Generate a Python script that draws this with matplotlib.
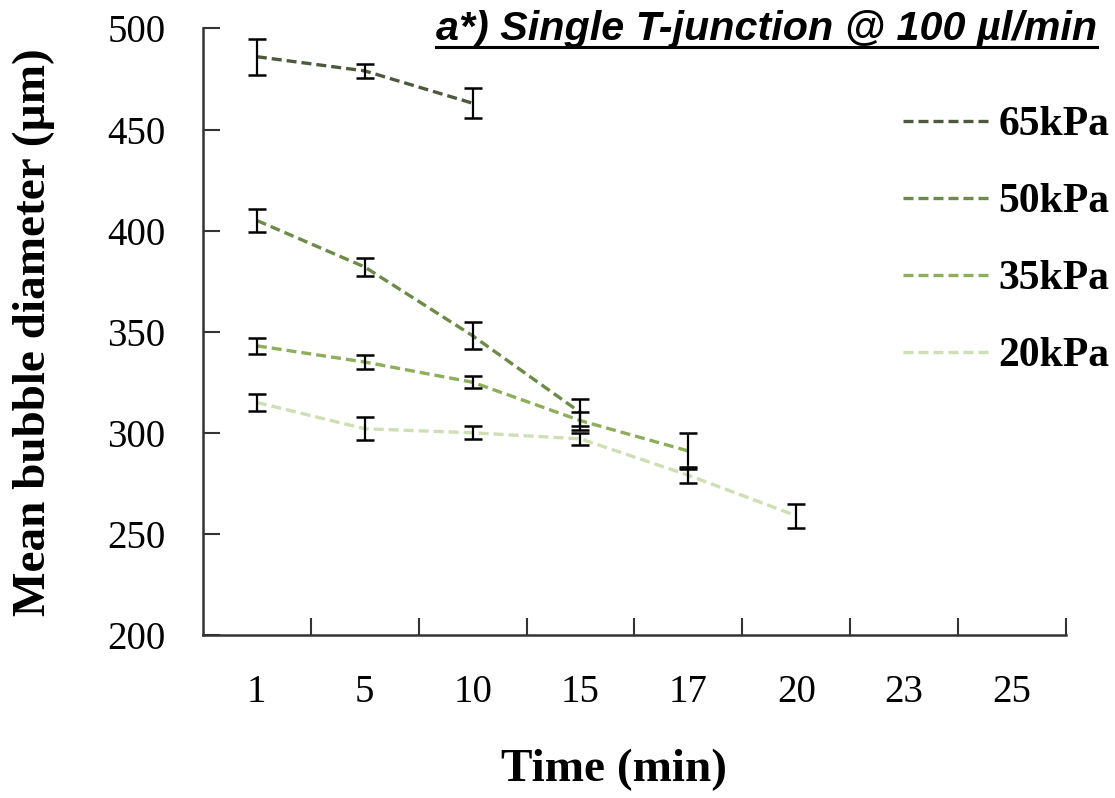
import matplotlib
matplotlib.use("Agg")
import matplotlib.pyplot as plt
from matplotlib.lines import Line2D
import numpy as np

times = ["1", "5", "10", "15", "17", "20", "23", "25"]

# mean diameter (um) and error per pressure, one value per time point
d65 = [486, 479, 463]
e65 = [9, 3.5, 7.5]
d50 = [405, 382, 348, 310]
e50 = [5.5, 4.5, 6.8, 6.5]
d35 = [343, 335, 325, 306, 291]
e35 = [4, 3.3, 3, 4.5, 9]
d20 = [315, 302, 300, 297, 279, 259]
e20 = [4, 5.8, 3.3, 3, 4, 6]

series = [
    ("65kPa", d65, e65, "#4b5a3c"),
    ("50kPa", d50, e50, "#6c8b47"),
    ("35kPa", d35, e35, "#8eae5c"),
    ("20kPa", d20, e20, "#cddfb3"),
]

serif = ["Liberation Serif", "DejaVu Serif"]

fig = plt.figure(figsize=(11.15, 7.98), dpi=100)
ax = fig.add_axes([0.182, 0.2043, 0.774, 0.7601])

for name, d, e, c in series:
    x = np.arange(len(d))
    ax.plot(x, d, color=c, lw=2.4, dashes=(3.0, 1.5), label=name, zorder=2)
    ax.errorbar(x, d, yerr=e, fmt="none", ecolor="black", elinewidth=1.6,
                capsize=6.5, capthick=1.8, zorder=3)

ax.set_xlim(-0.5, len(times) - 0.5)
ax.set_ylim(200, 500)
ax.set_yticks(np.arange(200, 501, 50))

# ticks sit on the category boundaries, labels in the middle
ax.set_xticks(np.arange(0.5, len(times), 1))
ax.set_xticklabels([])
ax.set_xticks(np.arange(len(times)), minor=True)
ax.set_xticklabels(times, minor=True)
ax.tick_params(axis="x", which="major", direction="in", length=12, width=1.5, color="#333333")
ax.tick_params(axis="x", which="minor", length=0, pad=28, labelsize=28)
ax.tick_params(axis="y", direction="in", length=12, width=1.5, color="#333333", pad=27, labelsize=28)
for lab in ax.get_xticklabels(minor=True) + ax.get_yticklabels():
    lab.set_family(serif)

for s in ["top", "right"]:
    ax.spines[s].set_visible(False)
for s in ["left", "bottom"]:
    ax.spines[s].set_color("#333333")
    ax.spines[s].set_linewidth(1.8)

ax.set_ylabel("Mean bubble diameter (µm)", family=serif, fontweight="bold", fontsize=34)
ax.yaxis.set_label_coords(-0.1715, 0.5)
fig.text(0.551, 0.035, "Time (min)", family=serif, fontweight="bold", fontsize=34,
         ha="center", va="center")

leg = ax.legend(loc="upper left", bbox_to_anchor=(0.768, 0.9335), frameon=False,
                prop={"family": serif, "weight": "bold", "size": 30},
                handlelength=2.13, handletextpad=0.15, labelspacing=0.93)

title = fig.text(0.984, 0.950, "a*) Single T-junction @ 100 µl/min",
                 family=["Liberation Sans", "DejaVu Sans"], fontweight="bold",
                 style="italic", fontsize=29.7, ha="right", va="baseline")

# underline the title
fig.canvas.draw()
bb = title.get_window_extent().transformed(fig.transFigure.inverted())
fig.add_artist(Line2D([bb.x0, bb.x1], [0.941, 0.941], color="black", lw=2.2,
                      transform=fig.transFigure))

fig.savefig("out.png", dpi=100)
